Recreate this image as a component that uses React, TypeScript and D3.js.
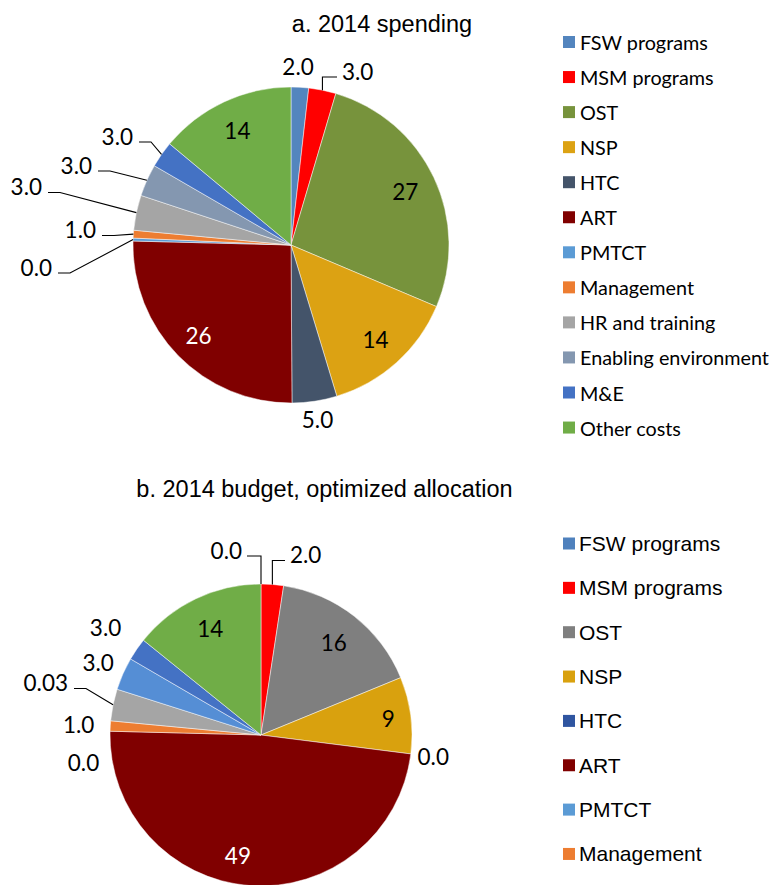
import React, { useRef, useEffect } from "react";
import * as d3 from "d3";

const WIDTH = 771;
const HEIGHT = 885;

// categories shared by both pies (clockwise from 12 o'clock)
const categories = [
	"FSW programs",
	"MSM programs",
	"OST",
	"NSP",
	"HTC",
	"ART",
	"PMTCT",
	"Management",
	"HR and training",
	"Enabling environment",
	"M&E",
	"Other costs",
];

// a. 2014 spending (share, %)
const spending2014 = [1.8, 2.8, 26.9, 14.0, 4.6, 25.6, 0.3, 0.8, 3.6, 3.3, 2.7, 14.0];
const spendingLabels = ["2.0", "3.0", "27", "14", "5.0", "26", "0.0", "1.0", "3.0", "3.0", "3.0", "14"];
const spendingColors = [
	"#5385BE", "#FF0000", "#77933C", "#DCA213", "#44546A", "#800000",
	"#5B9BD5", "#ED7D31", "#A5A5A5", "#8497B0", "#4472C4", "#70AD47",
];

// b. 2014 budget, optimized allocation (share, %)
const budgetOptimized = [0, 2.4, 16.4, 8.2, 0, 48.4, 0, 1.1, 3.4, 3.5, 2.4, 14.2];
const budgetLabels = ["0.0", "2.0", "16", "9", "0.0", "49", "0.0", "1.0", "0.03", "3.0", "3.0", "14"];
const budgetColors = [
	"#4F81BD", "#FF0000", "#7F7F7F", "#D9A10E", "#2F55A0", "#800000",
	"#5B9BD5", "#ED7D31", "#A5A5A5", "#558ED5", "#4472C4", "#70AD47",
];
const budgetLegendCount = 8;

// label placement: in = inside at k*r, out = outside (k*r or fixed pos), lead = with leader line
const spendingLabelLayout = [
	{ type: "out", k: 1.13, nudge: [-3, 0] },
	{ type: "lead", pos: [51, -174], anchor: "start", style: "v" },
	{ type: "in", k: 0.8 },
	{ type: "in", k: 0.8 },
	{ type: "out", k: 1.12 },
	{ type: "in", k: 0.82, color: "#fff" },
	{ type: "lead", pos: [-239, 22], anchor: "end", style: "h" },
	{ type: "lead", pos: [-195, -15.5], anchor: "end", style: "h" },
	{ type: "lead", pos: [-249, -58.5], anchor: "end", style: "h" },
	{ type: "lead", pos: [-199, -80], anchor: "end", style: "h" },
	{ type: "lead", pos: [-158, -109], anchor: "end", style: "h" },
	{ type: "in", k: 0.8 },
];

const budgetLabelLayout = [
	{ type: "lead", pos: [-19, -185], anchor: "end", style: "v" },
	{ type: "lead", pos: [29, -180.5], anchor: "start", style: "v" },
	{ type: "in", k: 0.78 },
	{ type: "in", k: 0.85 },
	{ type: "out", k: 1.15 },
	{ type: "in", k: 0.8, nudge: [-14, 0], color: "#fff" },
	{ type: "out", pos: [-177.5, 27] },
	{ type: "out", k: 1.21 },
	{ type: "lead", pos: [-193, -52.5], anchor: "end", style: "h" },
	{ type: "out", k: 1.18 },
	{ type: "out", k: 1.25 },
	{ type: "in", k: 0.78 },
];

const LABEL_FONT = "Lato, 'Open Sans', sans-serif";
const TITLE_FONT = "'Liberation Sans', Arial, sans-serif";

function drawPie(svg, opts) {
	const { cx, cy, r, values, labels, colors, layout } = opts;

	const pie = d3.pie().sort(null).value((d) => d);
	const arcs = pie(values);
	const arc = d3.arc().innerRadius(0).outerRadius(r);

	const g = svg.append("g").attr("transform", `translate(${cx},${cy})`);

	// zero-valued slices are skipped, they only carry a label
	g.selectAll("path.slice")
		.data(arcs.filter((d) => d.value > 0))
		.join("path")
		.attr("class", "slice")
		.attr("d", arc)
		.attr("fill", (d) => colors[d.index])
		.attr("stroke", "#fff")
		.attr("stroke-width", 0.6)
		.attr("stroke-opacity", 0.8);

	const mid = (d) => (d.startAngle + d.endAngle) / 2;
	const polar = (a, rad) => [rad * Math.sin(a), -rad * Math.cos(a)];

	arcs.forEach((d, i) => {
		const spec = layout[i];
		const nudge = spec.nudge || [0, 0];
		let x, y, anchor = "middle";

		if (spec.type === "in" || (spec.type === "out" && !spec.pos)) {
			[x, y] = polar(mid(d), spec.k * r);
			x += nudge[0];
			y += nudge[1];
		} else {
			[x, y] = spec.pos;
			if (spec.anchor) anchor = spec.anchor;
		}

		if (spec.type === "lead") {
			const p0 = polar(mid(d), r);
			const ly = y + 6;
			let pts;
			if (spec.style === "v") {
				const endX = anchor === "start" ? x - 5 : x + 5;
				pts = [p0, [p0[0], ly], [endX, ly]];
			} else {
				pts = [p0, [x + 18, ly], [x + 6, ly]];
			}
			g.append("path")
				.attr("d", d3.line()(pts))
				.attr("fill", "none")
				.attr("stroke", "#000")
				.attr("stroke-width", 1.1);
		}

		g.append("text")
			.attr("x", x)
			.attr("y", y)
			.attr("text-anchor", anchor)
			.attr("dominant-baseline", "central")
			.attr("font-family", LABEL_FONT)
			.attr("font-size", 22.5)
			.attr("fill", spec.color || "#000")
			.text(labels[i]);
	});
}

function drawLegend(svg, opts) {
	const { x, y0, step, items, colors, font, size, textX } = opts;
	const g = svg.append("g");
	const row = g
		.selectAll("g")
		.data(items)
		.join("g")
		.attr("transform", (d, i) => `translate(0,${y0 + i * step})`);
	row.append("rect")
		.attr("x", x)
		.attr("y", -6)
		.attr("width", 12)
		.attr("height", 12)
		.attr("fill", (d, i) => colors[i]);
	row.append("text")
		.attr("x", textX)
		.attr("y", 0)
		.attr("dominant-baseline", "central")
		.attr("font-family", font)
		.attr("font-size", size)
		.attr("fill", "#000")
		.text((d) => d);
}

const App = () => {
	const svgRef = useRef();

	useEffect(() => {
		document.body.style.margin = "0";
		const svg = d3.select(svgRef.current);
		svg.selectAll("*").remove();

		svg.append("rect").attr("width", WIDTH).attr("height", HEIGHT).attr("fill", "#fff");

		// titles
		svg.append("text")
			.attr("x", 382)
			.attr("y", 32)
			.attr("text-anchor", "middle")
			.attr("font-family", TITLE_FONT)
			.attr("font-size", 23.5)
			.text("a. 2014 spending");

		svg.append("text")
			.attr("x", 324.5)
			.attr("y", 497)
			.attr("text-anchor", "middle")
			.attr("font-family", TITLE_FONT)
			.attr("font-size", 23.5)
			.text("b. 2014 budget, optimized allocation");

		drawPie(svg, {
			cx: 291,
			cy: 245,
			r: 158,
			values: spending2014,
			labels: spendingLabels,
			colors: spendingColors,
			layout: spendingLabelLayout,
		});

		drawPie(svg, {
			cx: 261,
			cy: 735,
			r: 151,
			values: budgetOptimized,
			labels: budgetLabels,
			colors: budgetColors,
			layout: budgetLabelLayout,
		});

		drawLegend(svg, {
			x: 563,
			y0: 42,
			step: 35.05,
			items: categories,
			colors: spendingColors,
			font: LABEL_FONT,
			size: 19.8,
			textX: 580,
		});

		drawLegend(svg, {
			x: 563,
			y0: 543.5,
			step: 44.35,
			items: categories.slice(0, budgetLegendCount),
			colors: budgetColors,
			font: TITLE_FONT,
			size: 21,
			textX: 579,
		});
	}, []);

	return (
		<svg
			ref={svgRef}
			width={WIDTH}
			height={HEIGHT}
			style={{ display: "block", position: "absolute", top: 0, left: 0 }}
		/>
	);
};

export default App;
